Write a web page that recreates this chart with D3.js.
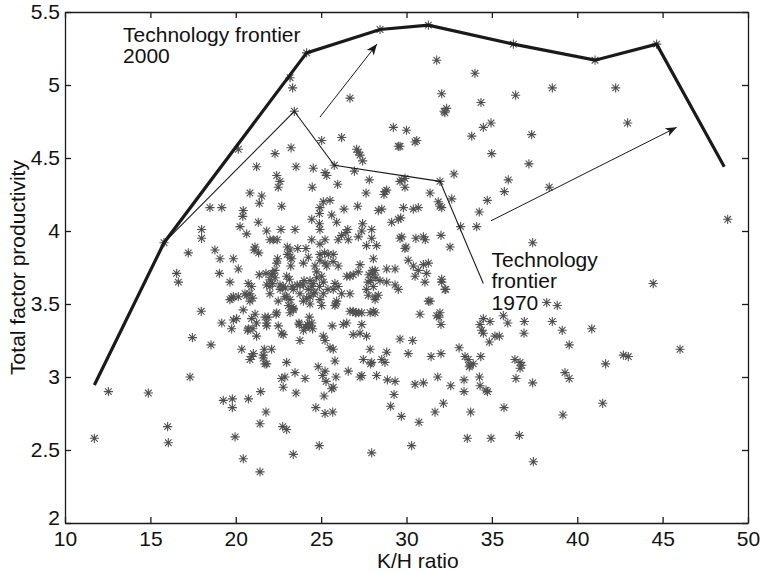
<!DOCTYPE html>
<html>
<head>
<meta charset="utf-8">
<script src="https://cdn.jsdelivr.net/npm/d3@7"></script>
<style>
	body { margin: 0; background: #fff; }
	text { font-family: "Liberation Sans", Arial, Helvetica, sans-serif; fill: #111; }
</style>
</head>
<body>
<div id="graphicContainer"></div>
<script>

// K/H ratio vs total factor productivity, one star per country-year
var points = [
	[23.18,5.05],[23.33,4.98],[26.69,4.91],[20.15,4.56],[25.03,4.62],[26.2,4.64],[22.3,4.53],[23.24,4.57],
	[27.08,4.56],[27.18,4.54],[27.28,4.52],[27.43,4.48],
	[21.22,4.44],[23.53,4.44],[24.54,4.43],[25.23,4.40],[25.33,4.38],[26.95,4.41],[27.82,4.35],
	[22.4,4.38],[22.59,4.34],[22.49,4.30],[24.48,4.30],[25.97,4.32],[27.63,4.26],
	[20.83,4.26],[21.52,4.24],[21.38,4.19],[18.49,4.16],[19.18,4.16],[22.69,4.17],[20.44,4.14],[20.41,4.10],
	[24.93,4.16],[24.9,4.12],[25.13,4.20],[25.52,4.21],[26.34,4.15],[27.14,4.17],[28.35,4.14],[25.62,4.11],[25.91,4.06],
	[24.45,4.08],[24.9,4.05],[24.93,4.01],[21.32,4.06],[20.25,4.03],[18.0,4.01],[18.0,3.95],[20.64,3.98],[21.81,4.0],[22.65,4.01],[23.47,4.01],
	[26.56,4.01],[26.45,3.99],[27.38,4.0],[27.96,4.01],[26.59,3.94],[27.18,3.96],[26.2,3.97],[26.0,3.94],[27.96,3.95],
	[24.45,3.94],[25.23,3.94],[22.0,3.94],[22.2,3.94],[22.43,3.94],
	[23.02,3.89],[23.18,3.87],[23.02,3.84],[23.18,3.82],[23.63,3.88],[24.11,3.88],[24.93,3.91],
	[21.13,3.89],[21.07,3.87],[21.34,3.85],[17.22,3.85],[18.78,3.87],[19.08,3.81],[19.86,3.81],[20.15,3.74],[19.04,3.71],
	[16.54,3.71],[16.64,3.65],[19.66,3.65],[20.73,3.64],[20.93,3.62],[21.38,3.70],[21.81,3.63],[22.0,3.62],
	[22.16,3.71],[22.3,3.73],[22.4,3.78],[22.45,3.81],[22.98,3.69],[23.14,3.67],[23.96,3.78],
	[24.64,3.76],[24.93,3.80],[25.23,3.78],[24.74,3.72],[25.42,3.84],[25.71,3.84],[25.7,3.79],[26.0,3.76],
	[26.69,3.69],[26.88,3.70],[27.18,3.72],[27.28,3.77],[28.04,3.70],[28.16,3.73],
	[23.28,3.81],[23.22,3.76],[24.25,3.82],[24.93,3.84],[25.2,3.85],[25.33,3.76],
	[21.77,3.71],[22.1,3.70],[22.0,3.665],[22.16,3.64],[22.3,3.68],[22.59,3.63],[22.78,3.62],
	[24.74,3.68],[25.03,3.69],[25.13,3.65],[24.54,3.64],[25.81,3.64],[26.0,3.62],[26.5,3.69],
	[23.96,3.63],[24.25,3.60],[24.45,3.62],[24.64,3.58],
	[20.83,3.57],[22.0,3.57],[23.76,3.57],[25.71,3.60],[26.2,3.57],[26.69,3.57],
	[20.83,3.52],[22.49,3.52],[23.08,3.49],[23.37,3.47],[23.96,3.52],[24.35,3.50],[25.03,3.49],[25.87,3.50],
	[21.71,3.41],[22.36,3.43],[26.69,3.45],[27.04,3.44],
	[22.6,3.60],[22.9,3.61],[23.3,3.62],[23.6,3.63],[24.0,3.66],[24.35,3.66],[24.9,3.62],[25.4,3.60],
	[20.54,3.57],[24.93,3.53],[25.13,3.57],[24.35,3.55],[24.15,3.54],[24.54,3.57],[23.76,3.63],[23.37,3.60],
	[28.45,3.66],
	[31.77,5.17],[34.01,5.08],[32.06,4.94],[36.39,4.93],[38.54,4.98],[42.25,4.98],[34.36,4.88],
	[32.35,4.84],[32.25,4.81],[32.2,4.82],[42.95,4.74],[34.95,4.74],[34.5,4.71],[29.23,4.71],[30.0,4.69],
	[30.6,4.62],[30.5,4.61],[29.52,4.58],[29.62,4.58],[33.82,4.65],[37.33,4.66],[34.99,4.53],[37.17,4.46],
	[35.96,4.35],[35.73,4.27],[38.36,4.30],[32.78,4.39],[32.65,4.22],[34.73,4.21],[34.26,4.13],[34.11,4.03],[33.17,4.03],
	[37.39,3.92],[48.81,4.08],[31.38,4.26],[31.86,4.20],[31.96,4.17],[32.06,4.16],[32.02,3.97],[32.55,3.89],
	[29.72,4.35],[29.91,4.30],[29.62,4.34],[29.91,4.36],[28.74,4.27],[28.84,4.28],[28.68,4.25],[28.55,4.15],
	[29.82,4.16],[30.4,4.15],[30.69,4.16],[29.66,4.09],[29.52,4.08],[29.13,4.06],[27.43,4.05],
	[29.72,3.96],[29.62,3.95],[29.91,3.88],[29.97,3.89],[30.55,3.95],[30.99,3.96],[31.1,3.94],
	[27.66,3.90],[28.25,3.90],[28.06,3.81],
	[28.84,3.74],[29.33,3.74],[30.1,3.80],[30.4,3.76],[30.69,3.73],[30.99,3.77],[31.28,3.78],
	[30.5,3.69],[31.08,3.65],[31.18,3.71],[32.06,3.67],[32.25,3.60],
	[27.8,3.70],[28.0,3.73],[27.9,3.66],[28.2,3.68],[27.75,3.65],
	[28.84,3.65],[29.33,3.63],[29.52,3.60],[27.66,3.60],[28.06,3.62],[27.76,3.56],[28.16,3.55],
	[44.45,3.64],[38.21,3.51],[38.83,3.49],[40.85,3.33],[38.54,3.38],[39.12,3.32],[39.53,3.22],[46.02,3.19],
	[42.7,3.15],[42.99,3.14],[41.66,3.09],[39.28,3.03],[39.53,2.99],[41.49,2.82],[39.16,2.74],[37.43,2.42],
	[37.39,2.96],[36.9,3.38],[36.88,3.30],[36.41,2.99],[36.35,3.12],[36.65,3.10],[36.75,3.08],[36.65,3.06],
	[36.61,2.60],[35.71,2.79],[35.67,3.42],[35.93,3.37],[35.18,3.28],[35.44,3.28],[34.85,3.24],[34.89,3.38],
	[34.5,3.40],[34.4,3.32],[34.5,3.30],[34.3,3.36],[34.95,2.58],[33.56,2.58],[33.76,2.76],[34.35,3.14],
	[34.27,3.0],[34.31,2.94],[34.66,2.91],[34.74,2.90],[33.37,2.98],[33.37,2.90],[33.08,3.20],
	[33.43,3.14],[33.62,3.12],[33.72,3.08],[33.91,3.09],[33.68,3.07],[32.59,2.94],[32.16,2.82],[31.83,3.0],
	[31.67,2.76],[32.02,3.16],[31.44,3.14],[31.28,3.52],[31.38,3.52],[31.77,3.42],[31.96,3.44],[31.9,3.41],
	[32.02,3.36],[32.3,3.60],[32.06,3.65],[30.79,3.43],[30.36,3.25],[29.62,3.26],[30.1,3.16],
	[30.5,2.95],[30.99,2.96],[30.73,2.69],[30.3,2.53],[29.7,2.73],[29.07,2.80],[29.27,2.88],[28.88,2.98],[29.33,2.97],
	[28.84,3.17],[28.55,3.12],[28.74,3.10],
	[27.87,3.19],[27.47,3.12],[27.96,3.10],[27.38,3.01],[28.25,3.01],[27.38,3.36],[27.66,3.28],[27.87,3.44],[28.06,3.45],[27.38,3.44],
	[11.72,2.58],[12.54,2.90],[14.88,2.89],[16.01,2.66],[16.05,2.55],[17.32,3.0],[17.46,3.27],[17.98,3.45],[18.55,3.22],
	[19.18,3.37],[19.27,2.84],[19.8,2.85],[19.8,2.79],[19.96,2.59],[20.44,2.44],[20.74,2.85],[21.42,2.35],[21.42,2.68],[21.46,2.90],[21.77,2.76],
	[19.86,3.39],[19.76,3.33],[19.66,3.53],[19.86,3.55],[20.15,3.55],[20.35,3.19],[20.83,3.12],[20.93,3.14],[21.03,3.16],
	[21.22,3.28],[20.74,3.33],[21.0,3.33],[21.22,3.37],[21.13,3.43],[20.93,3.40],[20.44,3.46],[20.99,3.54],
	[21.81,3.37],[21.81,3.35],[21.9,3.41],[21.67,3.19],[21.61,3.15],[21.81,3.09],[22.1,3.19],[22.4,3.44],
	[22.49,3.35],[22.69,3.30],[22.78,3.29],[22.88,3.55],[22.98,3.55],[23.18,3.53],[23.28,3.48],[23.18,3.44],[23.37,3.46],
	[22.98,3.10],[22.69,2.99],[22.88,3.0],[22.78,2.93],[22.75,2.66],[22.98,2.64],[23.37,2.47],[23.53,2.89],[23.47,3.03],[23.76,3.25],
	[23.7,3.37],[24.1,3.34],[24.3,3.35],[24.5,3.33],[24.2,3.36],[24.45,3.37],[24.06,2.99],[24.83,3.07],[24.69,2.79],[24.89,2.53],
	[25.09,3.01],[25.23,3.04],[25.13,3.28],[25.23,3.25],[25.52,3.20],[25.71,3.19],[25.65,3.35],[25.29,2.97],[25.17,2.87],[25.23,2.75],
	[25.62,2.92],[25.71,2.93],[25.68,2.76],[25.81,3.11],[25.87,3.0],[26.59,3.04],[26.88,3.29],[27.28,3.30],[26.5,3.37],[26.3,3.36],
	[27.28,3.0],[27.9,3.09],[27.96,2.48],
	[26.88,3.45],[27.0,3.44],[27.2,3.44],[28.16,3.44],[28.16,3.53],[28.35,3.56],
	[25.91,3.52],[25.81,3.49],
	[20.05,3.40],[20.7,3.32],[19.76,3.54],[20.64,3.56],
	[23.72,3.36],[23.96,3.32],[24.25,3.35],[24.31,3.41],[21.61,3.13],[21.71,3.09],
	// stars sitting on the frontier corners
	[15.8,3.92],[23.43,4.82],[25.77,4.45],[31.96,4.34],
	[24.15,5.22],[28.45,5.38],[31.28,5.41],[36.26,5.28],[41.04,5.17],[44.65,5.28]
]

var frontier2000 = [[11.72,2.945],[15.8,3.92],[24.15,5.22],[28.45,5.38],[31.28,5.41],[36.26,5.28],[41.04,5.17],[44.65,5.28],[48.61,4.44]]

var frontier1970 = [[15.8,3.92],[23.43,4.82],[25.77,4.45],[31.96,4.34],[34.5,3.64]]

// shift of the frontier, tail then head
var arrows = [
	[[24.93,4.78],[28.27,5.28]],
	[[34.95,4.07],[45.82,4.71]]
]

var labels = [
	{lines: ["Technology frontier", "2000"], at: [13.4, 5.295]},
	{lines: ["Technology", "frontier", "1970"], at: [34.98, 3.755]}
]

var xTicks = [10, 15, 20, 25, 30, 35, 40, 45, 50]
var yTicks = [2, 2.5, 3, 3.5, 4, 4.5, 5, 5.5]

var width = 760
var height = 573
var margin = {top: 12, right: 12, bottom: 50, left: 65}
var innerW = width - margin.left - margin.right
var innerH = height - margin.top - margin.bottom

var svg = d3.select("#graphicContainer").append("svg")
	.attr("width", width)
	.attr("height", height)

var g = svg.append("g").attr("transform", "translate(" + margin.left + "," + margin.top + ")")

var x = d3.scaleLinear().domain([10, 50]).range([0, innerW])
var y = d3.scaleLinear().domain([2, 5.5]).range([innerH, 0])

var fmt = d => String(d)

// MATLAB style box: ticks pointing in on all four sides
var bottom = g.append("g").attr("transform", "translate(0," + innerH + ")")
	.call(d3.axisBottom(x).tickValues(xTicks).tickFormat(fmt).tickSize(-6).tickSizeOuter(0))
bottom.selectAll("text").attr("y", 23).attr("dy", null).style("font-size", "21px")

var left = g.append("g")
	.call(d3.axisLeft(y).tickValues(yTicks).tickFormat(fmt).tickSize(-6).tickSizeOuter(0).tickPadding(5))
left.selectAll("text").style("font-size", "21px")
// lowest label sits a little higher so it clears the "10"
left.selectAll("text").filter(v => v === 2).attr("dy", "0.05em")

g.append("g").call(d3.axisTop(x).tickValues(xTicks).tickFormat("").tickSize(-6).tickSizeOuter(0))
g.append("g").attr("transform", "translate(" + innerW + ",0)")
	.call(d3.axisRight(y).tickValues(yTicks).tickFormat("").tickSize(-6).tickSizeOuter(0))

g.selectAll(".domain, .tick line").attr("stroke", "#1a1a1a").attr("stroke-width", 1.3)
g.selectAll(".tick text").attr("fill", "#111").style("font-family", "'Liberation Sans', Arial, sans-serif")

// asterisk marker
var r = 4.6, d = r * 0.72
var star = "M" + (-r) + ",0L" + r + ",0M0," + (-r) + "L0," + r +
	"M" + (-d) + "," + (-d) + "L" + d + "," + d + "M" + (-d) + "," + d + "L" + d + "," + (-d)

g.append("g")
	.selectAll("path")
	.data(points)
	.enter()
	.append("path")
	.attr("d", star)
	.attr("transform", p => "translate(" + x(p[0]) + "," + y(p[1]) + ")")
	.attr("fill", "none")
	.attr("stroke", "#505050")
	.attr("stroke-width", 1.1)

var line = d3.line().x(p => x(p[0])).y(p => y(p[1]))

g.append("path")
	.datum(frontier2000)
	.attr("d", line)
	.attr("fill", "none")
	.attr("stroke", "#1a1a1a")
	.attr("stroke-width", 3.2)
	.attr("stroke-linejoin", "miter")

g.append("path")
	.datum(frontier1970)
	.attr("d", line)
	.attr("fill", "none")
	.attr("stroke", "#1a1a1a")
	.attr("stroke-width", 1.1)

svg.append("defs").append("marker")
	.attr("id", "head")
	.attr("viewBox", "-12 -6 14 12")
	.attr("refX", 0)
	.attr("refY", 0)
	.attr("markerWidth", 14)
	.attr("markerHeight", 12)
	.attr("markerUnits", "userSpaceOnUse")
	.attr("orient", "auto")
	.append("path")
	.attr("d", "M0,0L-11,-4.5L-8,0L-11,4.5Z")
	.attr("fill", "#1a1a1a")

g.append("g")
	.selectAll("line")
	.data(arrows)
	.enter()
	.append("line")
	.attr("x1", a => x(a[0][0]))
	.attr("y1", a => y(a[0][1]))
	.attr("x2", a => x(a[1][0]))
	.attr("y2", a => y(a[1][1]))
	.attr("stroke", "#1a1a1a")
	.attr("stroke-width", 1)
	.attr("marker-end", "url(#head)")

labels.forEach(function(l) {
	var t = g.append("text")
		.attr("x", x(l.at[0]))
		.attr("y", y(l.at[1]))
		.style("font-size", "21px")
	l.lines.forEach(function(s, i) {
		t.append("tspan").attr("x", x(l.at[0])).attr("dy", i === 0 ? 0 : 21.5).text(s)
	})
})

svg.append("text")
	.attr("x", 377)
	.attr("y", 568)
	.style("font-size", "21px")
	.text("K/H ratio")

svg.append("text")
	.attr("transform", "translate(25," + (margin.top + innerH / 2) + ") rotate(-90)")
	.attr("text-anchor", "middle")
	.style("font-size", "21px")
	.text("Total factor productivity")

</script>
</body>
</html>
